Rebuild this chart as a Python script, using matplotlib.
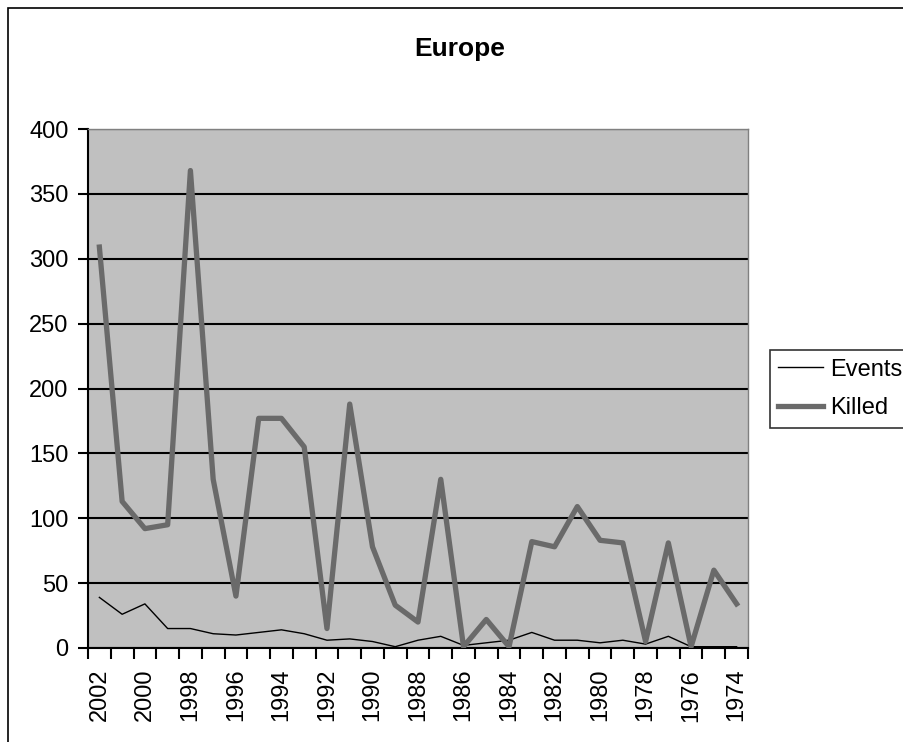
import matplotlib
matplotlib.use("Agg")
import matplotlib.pyplot as plt
from matplotlib.patches import Rectangle
from matplotlib.ticker import FixedLocator, NullFormatter

# Data
years = [2002, 2001, 2000, 1999, 1998, 1997, 1996, 1995, 1994, 1993,
         1992, 1991, 1990, 1989, 1988, 1987, 1986, 1985, 1984, 1983,
         1982, 1981, 1980, 1979, 1978, 1977, 1976, 1975, 1974]
events = [39, 26, 34, 15, 15, 11, 10, 12, 14, 11,
          6, 7, 5, 1, 6, 9, 2, 4, 6, 12,
          6, 6, 4, 6, 3, 9, 1, 1, 1]
killed = [309, 113, 92, 95, 368, 130, 40, 177, 177, 155,
          15, 188, 78, 33, 20, 130, 1, 22, 1, 82,
          78, 109, 83, 81, 5, 81, 1, 60, 34]

plt.rcParams['font.family'] = ['Liberation Sans', 'DejaVu Sans']

fig = plt.figure(figsize=(9.04, 7.42), dpi=100)
fig.patch.set_facecolor('white')

# chart-area border
fig.patches.append(Rectangle((8 / 904, -0.01), 1.0, 1.0 - 8 / 742 + 0.01,
                             transform=fig.transFigure, fill=False,
                             edgecolor='black', linewidth=1.2))

ax = fig.add_axes([88 / 904, 1 - 648 / 742, 660 / 904, 519 / 742])
ax.set_facecolor('#c0c0c0')

x = list(range(len(years)))
ax.plot(x, events, color='black', linewidth=1.0, label='Events', zorder=3)
ax.plot(x, killed, color='#6a6a6a', linewidth=3.8, label='Killed', zorder=4)

ax.set_xlim(-0.5, len(years) - 0.5)
ax.set_ylim(0, 400)
ax.set_yticks(range(0, 401, 50))
ax.yaxis.grid(True, color='black', linewidth=1.5)
ax.set_axisbelow(True)

# labels every other year, tick marks between categories
ax.set_xticks(x[::2])
ax.set_xticklabels([str(y) for y in years[::2]], rotation=90)
ax.xaxis.set_minor_locator(FixedLocator([i - 0.5 for i in range(len(years) + 1)]))
ax.xaxis.set_minor_formatter(NullFormatter())
ax.tick_params(axis='x', which='major', length=0, pad=15, labelsize=17)
ax.tick_params(axis='x', which='minor', length=8, width=1.5, color='black', direction='out')
ax.tick_params(axis='y', length=7, width=1.5, direction='out', labelsize=17, pad=7)

for side in ['left', 'bottom']:
    ax.spines[side].set_color('black')
    ax.spines[side].set_linewidth(1.5)
for side in ['right', 'top']:
    ax.spines[side].set_color('#808080')
    ax.spines[side].set_linewidth(1.0)

fig.text(460 / 904, 1 - 49 / 742, 'Europe', ha='center', va='center',
         fontsize=19, fontweight='bold')

leg = ax.legend(loc='center left', bbox_to_anchor=(770 / 904, 1 - 389 / 742),
                bbox_transform=fig.transFigure, frameon=True, fancybox=False,
                fontsize=17, handlelength=1.9, handletextpad=0.3,
                borderpad=0.35, labelspacing=0.7, borderaxespad=0)
leg.get_frame().set_edgecolor('black')
leg.get_frame().set_linewidth(1.2)

fig.savefig('out.png', dpi=100)
